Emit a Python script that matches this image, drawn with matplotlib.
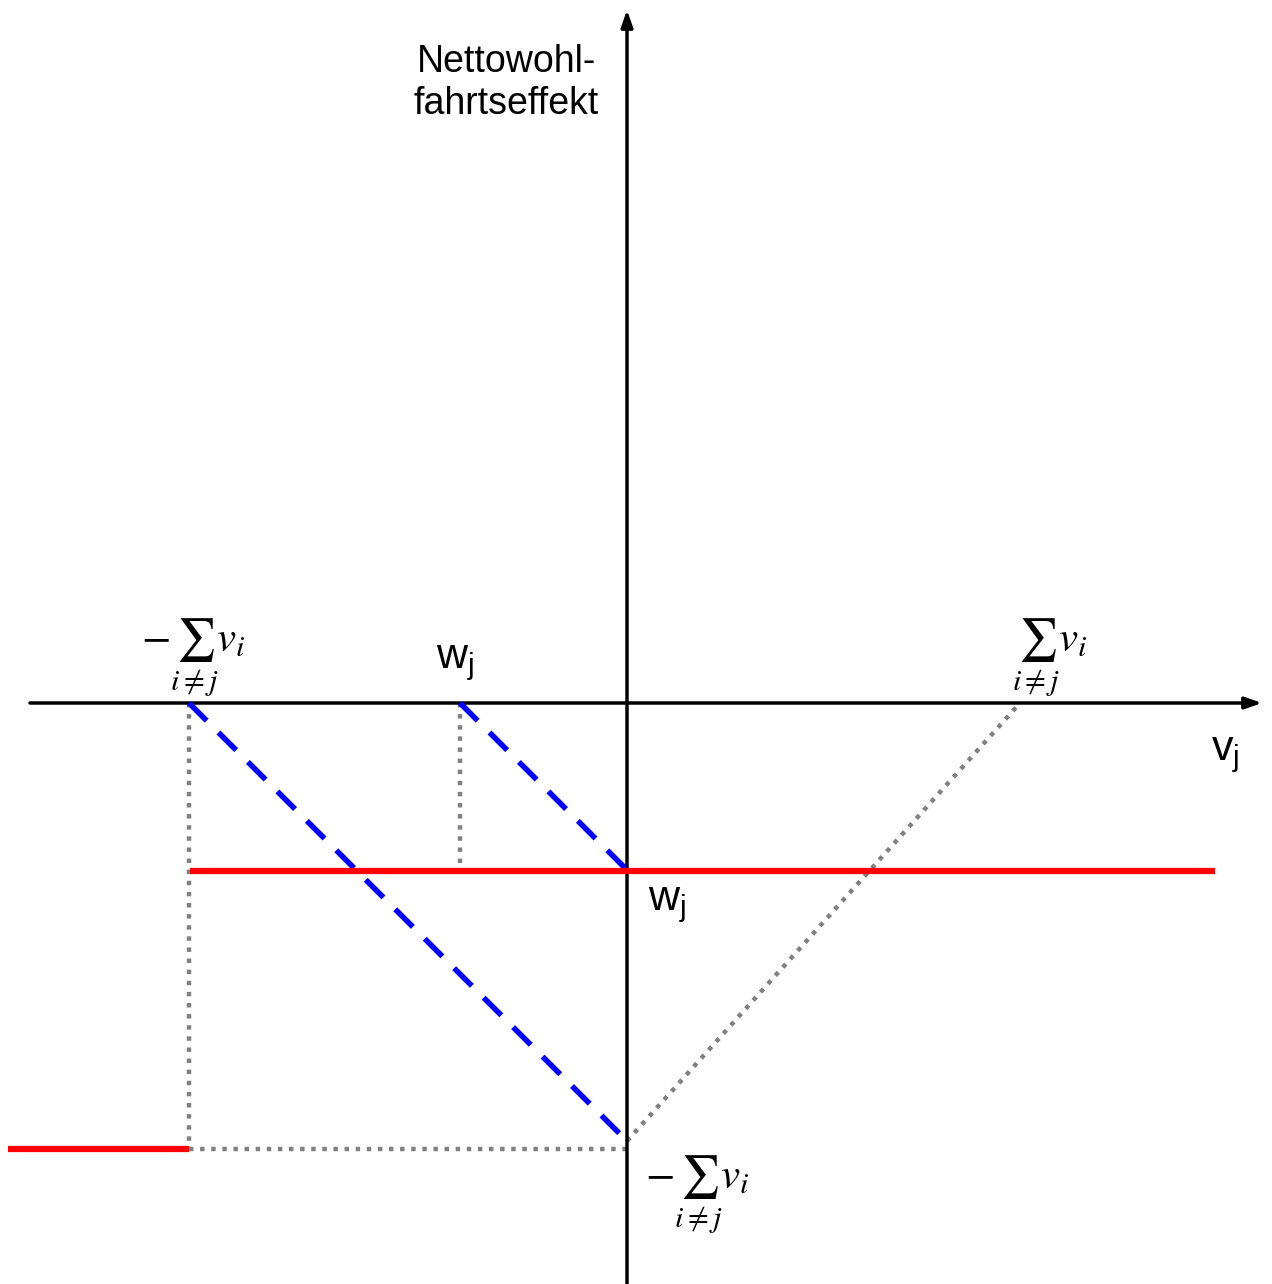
import matplotlib
matplotlib.use("Agg")
import matplotlib.pyplot as plt

plt.rcParams["font.family"] = ["Liberation Sans", "DejaVu Sans"]
plt.rcParams["mathtext.fontset"] = "stix"

# schematic values (origin at 0, units roughly in pixels of the reference)
sum_left = -438
sum_right = 393
w_j = -167
level_w = -168
level_sum = -446

red_right_x = [-437, 588]
red_right_y = [level_w, level_w]
red_left_x = [-619, sum_left]
red_left_y = [level_sum, level_sum]

blue_long_x = [sum_left, 0]
blue_long_y = [0, sum_left]
blue_short_x = [w_j, 0]
blue_short_y = [0, w_j]

gray_lines = [
    ([sum_left, sum_left], [0, level_sum]),
    ([w_j, w_j], [0, level_w]),
    ([sum_left, 0], [level_sum, level_sum]),
    ([0, sum_right], [sum_left, 0]),
]

fig = plt.figure(figsize=(12.72, 12.84), dpi=100)
ax = fig.add_axes([0, 0, 1, 1])
ax.set_xlim(-627, 645)
ax.set_ylim(-581, 703)
ax.axis("off")

# axes with arrows
arrow = dict(arrowstyle="-|>,head_length=1.0,head_width=0.35", lw=2.5, color="black",
             shrinkA=0, shrinkB=0)
ax.annotate("", xy=(635, 0), xytext=(-597, 0), arrowprops=arrow)
ax.annotate("", xy=(0, 693), xytext=(0, -581), arrowprops=arrow)

for gx, gy in gray_lines:
    ax.plot(gx, gy, color="#808080", lw=3.2, ls=(0, (1, 1.5)), zorder=2)

ax.plot(blue_long_x, blue_long_y, color="#0000ff", lw=4, ls=(0, (4.5, 3)), zorder=3)
ax.plot(blue_short_x, blue_short_y, color="#0000ff", lw=4, ls=(0, (4.5, 3)), zorder=3)

ax.plot(red_right_x, red_right_y, color="#ff0000", lw=4.5, solid_capstyle="butt", zorder=4)
ax.plot(red_left_x, red_left_y, color="#ff0000", lw=4.5, solid_capstyle="butt", zorder=4)

fs = 27
ax.text(-121, 620, "Nettowohl-\nfahrtseffekt", ha="center", va="center", fontsize=fs, linespacing=1.25)
ax.text(598, -52, r"$\mathregular{v_j}$", ha="center", va="center", fontsize=fs + 4)
ax.text(-172, 40, r"$\mathregular{w_j}$", ha="center", va="center", fontsize=fs + 4)
ax.text(40, -202, r"$\mathregular{w_j}$", ha="center", va="center", fontsize=fs + 4)

mfs = 31
ax.text(-434, 45, r"$-\sum_{i\neq j} v_i$", ha="center", va="center", fontsize=mfs)
ax.text(423, 45, r"$\sum_{i\neq j} v_i$", ha="center", va="center", fontsize=mfs)
ax.text(70, -492, r"$-\sum_{i\neq j} v_i$", ha="center", va="center", fontsize=mfs)

fig.savefig("out.png", dpi=100)
